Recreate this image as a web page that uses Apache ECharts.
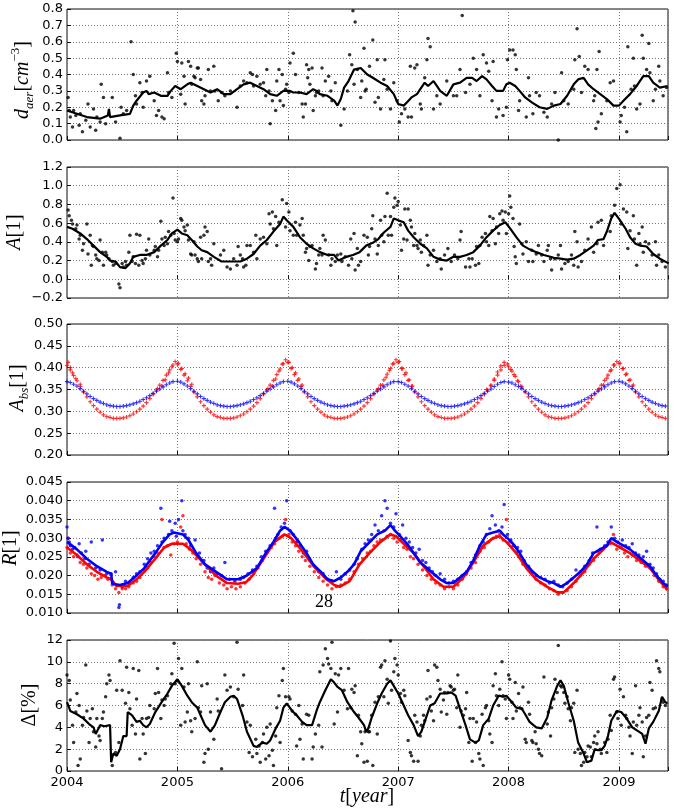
<!DOCTYPE html>
<html><head><meta charset="utf-8">
<script src="https://cdn.jsdelivr.net/npm/echarts@6/dist/echarts.min.js"></script>
<style>html,body{margin:0;padding:0;background:#fff}#c{width:675px;height:809px}</style>
</head><body><div id="c"></div>
<script>
// ---------- panel 1: d_aer ----------
const aerDots = [[2004.01,0.26],[2004.02,0.18],[2004.03,0.14],[2004.05,0.08],[2004.06,0.18],[2004.08,0.15],[2004.11,0.09],[2004.12,0.16],[2004.14,0.05],[2004.17,0.12],[2004.19,0.22],[2004.21,0.08],[2004.24,0.19],[2004.26,0.06],[2004.27,0.14],[2004.30,0.11],[2004.31,0.34],[2004.33,0.26],[2004.35,0.10],[2004.41,0.26],[2004.44,0.11],[2004.48,0.01],[2004.49,0.20],[2004.51,0.16],[2004.54,0.18],[2004.58,0.60],[2004.60,0.40],[2004.62,0.27],[2004.63,0.22],[2004.66,0.35],[2004.68,0.29],[2004.69,0.20],[2004.72,0.36],[2004.75,0.39],[2004.79,0.24],[2004.81,0.15],[2004.83,0.18],[2004.86,0.14],[2004.88,0.13],[2004.91,0.41],[2004.92,0.29],[2004.95,0.26],[2004.99,0.53],[2005.00,0.48],[2005.03,0.28],[2005.04,0.47],[2005.06,0.39],[2005.07,0.22],[2005.10,0.48],[2005.12,0.45],[2005.13,0.34],[2005.15,0.39],[2005.16,0.38],[2005.18,0.44],[2005.19,0.44],[2005.21,0.37],[2005.22,0.24],[2005.24,0.22],[2005.25,0.27],[2005.28,0.43],[2005.30,0.30],[2005.33,0.45],[2005.34,0.30],[2005.37,0.24],[2005.40,0.29],[2005.43,0.27],[2005.48,0.30],[2005.54,0.20],[2005.57,0.33],[2005.60,0.36],[2005.63,0.35],[2005.66,0.41],[2005.68,0.40],[2005.69,0.33],[2005.72,0.39],[2005.75,0.34],[2005.78,0.35],[2005.80,0.27],[2005.81,0.43],[2005.83,0.30],[2005.84,0.10],[2005.86,0.24],[2005.89,0.18],[2005.90,0.36],[2005.92,0.43],[2005.93,0.24],[2005.95,0.40],[2005.96,0.21],[2005.98,0.31],[2005.99,0.34],[2006.01,0.29],[2006.02,0.47],[2006.05,0.53],[2006.07,0.40],[2006.10,0.29],[2006.13,0.22],[2006.14,0.14],[2006.16,0.22],[2006.17,0.46],[2006.18,0.38],[2006.19,0.43],[2006.20,0.34],[2006.22,0.44],[2006.23,0.18],[2006.25,0.27],[2006.26,0.29],[2006.28,0.30],[2006.31,0.44],[2006.32,0.27],[2006.34,0.36],[2006.37,0.39],[2006.39,0.30],[2006.40,0.24],[2006.43,0.35],[2006.48,0.09],[2006.51,0.19],[2006.54,0.30],[2006.56,0.52],[2006.58,0.46],[2006.59,0.79],[2006.60,0.34],[2006.61,0.72],[2006.63,0.43],[2006.66,0.26],[2006.67,0.36],[2006.69,0.56],[2006.70,0.30],[2006.71,0.31],[2006.74,0.45],[2006.77,0.61],[2006.79,0.23],[2006.81,0.49],[2006.82,0.26],[2006.84,0.19],[2006.87,0.37],[2006.88,0.49],[2006.90,0.31],[2006.93,0.19],[2006.96,0.35],[2006.99,0.24],[2007.01,0.11],[2007.03,0.16],[2007.06,0.19],[2007.09,0.14],[2007.11,0.45],[2007.12,0.14],[2007.15,0.44],[2007.17,0.46],[2007.20,0.22],[2007.21,0.19],[2007.24,0.38],[2007.26,0.49],[2007.27,0.62],[2007.29,0.57],[2007.32,0.19],[2007.35,0.27],[2007.38,0.22],[2007.44,0.36],[2007.50,0.27],[2007.53,0.27],[2007.56,0.43],[2007.58,0.76],[2007.61,0.29],[2007.65,0.34],[2007.68,0.50],[2007.71,0.43],[2007.74,0.27],[2007.77,0.52],[2007.80,0.47],[2007.82,0.42],[2007.85,0.24],[2007.86,0.48],[2007.89,0.14],[2007.91,0.19],[2007.95,0.15],[2007.98,0.20],[2007.99,0.49],[2008.01,0.55],[2008.04,0.55],[2008.06,0.52],[2008.07,0.43],[2008.09,0.18],[2008.10,0.24],[2008.16,0.14],[2008.18,0.38],[2008.19,0.27],[2008.22,0.16],[2008.25,0.29],[2008.28,0.27],[2008.32,0.17],[2008.35,0.14],[2008.39,0.22],[2008.42,0.29],[2008.45,0.00],[2008.48,0.41],[2008.50,0.24],[2008.54,0.22],[2008.59,0.31],[2008.60,0.49],[2008.62,0.68],[2008.64,0.51],[2008.66,0.29],[2008.69,0.45],[2008.72,0.43],[2008.77,0.24],[2008.78,0.27],[2008.79,0.07],[2008.80,0.43],[2008.81,0.11],[2008.82,0.54],[2008.84,0.16],[2008.89,0.24],[2008.92,0.35],[2008.95,0.36],[2009.01,0.11],[2009.02,0.15],[2009.05,0.20],[2009.07,0.05],[2009.08,0.57],[2009.11,0.31],[2009.13,0.50],[2009.14,0.33],[2009.16,0.19],[2009.19,0.22],[2009.21,0.64],[2009.22,0.50],[2009.25,0.43],[2009.27,0.59],[2009.28,0.41],[2009.31,0.24],[2009.33,0.31],[2009.36,0.45],[2009.37,0.36],[2009.40,0.27],[2009.43,0.32]];
const aerLine = [[2004.00,0.18],[2004.09,0.16],[2004.18,0.14],[2004.30,0.13],[2004.37,0.15],[2004.38,0.19],[2004.39,0.14],[2004.48,0.15],[2004.57,0.16],[2004.60,0.21],[2004.63,0.24],[2004.69,0.29],[2004.72,0.30],[2004.74,0.28],[2004.79,0.29],[2004.85,0.27],[2004.91,0.27],[2004.94,0.30],[2004.98,0.33],[2005.03,0.31],[2005.09,0.34],[2005.12,0.35],[2005.18,0.33],[2005.24,0.31],[2005.30,0.29],[2005.36,0.31],[2005.42,0.28],[2005.48,0.28],[2005.54,0.31],[2005.60,0.34],[2005.66,0.35],[2005.72,0.33],[2005.78,0.31],[2005.84,0.28],[2005.90,0.27],[2005.96,0.30],[2006.02,0.30],[2006.05,0.29],[2006.11,0.29],[2006.17,0.28],[2006.23,0.31],[2006.26,0.30],[2006.29,0.28],[2006.36,0.27],[2006.42,0.24],[2006.45,0.21],[2006.48,0.25],[2006.51,0.32],[2006.55,0.36],[2006.60,0.43],[2006.66,0.44],[2006.72,0.40],[2006.77,0.38],[2006.84,0.35],[2006.90,0.33],[2006.96,0.28],[2007.00,0.22],[2007.05,0.21],[2007.08,0.23],[2007.12,0.26],[2007.17,0.28],[2007.20,0.31],[2007.24,0.35],[2007.27,0.33],[2007.32,0.36],[2007.35,0.33],[2007.38,0.30],[2007.44,0.27],[2007.50,0.34],[2007.56,0.35],[2007.62,0.38],[2007.67,0.38],[2007.71,0.36],[2007.76,0.39],[2007.80,0.37],[2007.85,0.33],[2007.89,0.30],[2007.95,0.30],[2007.98,0.34],[2008.01,0.35],[2008.06,0.33],[2008.10,0.30],[2008.15,0.26],[2008.21,0.23],[2008.28,0.20],[2008.35,0.19],[2008.41,0.21],[2008.47,0.22],[2008.53,0.27],[2008.59,0.34],[2008.63,0.37],[2008.68,0.38],[2008.72,0.34],[2008.77,0.31],[2008.83,0.28],[2008.89,0.25],[2008.95,0.21],[2009.00,0.21],[2009.04,0.24],[2009.10,0.28],[2009.16,0.33],[2009.22,0.39],[2009.27,0.39],[2009.31,0.35],[2009.37,0.32],[2009.44,0.33]];

// ---------- panel 2: A ----------
const aDots = [[2004.01,0.74],[2004.02,0.68],[2004.04,0.63],[2004.05,0.59],[2004.08,0.54],[2004.09,0.58],[2004.11,0.43],[2004.12,0.47],[2004.14,0.31],[2004.15,0.38],[2004.18,0.59],[2004.19,0.27],[2004.21,0.47],[2004.22,0.15],[2004.23,0.36],[2004.24,0.35],[2004.26,0.26],[2004.27,0.22],[2004.29,0.20],[2004.30,0.42],[2004.32,0.29],[2004.33,0.15],[2004.35,0.29],[2004.36,0.26],[2004.38,0.22],[2004.41,0.19],[2004.42,0.15],[2004.44,0.17],[2004.47,-0.05],[2004.48,-0.09],[2004.50,0.17],[2004.51,0.13],[2004.53,0.19],[2004.54,0.15],[2004.56,0.29],[2004.57,0.47],[2004.59,0.19],[2004.60,0.24],[2004.62,0.17],[2004.63,0.48],[2004.65,0.15],[2004.66,0.47],[2004.68,0.20],[2004.69,0.17],[2004.71,0.22],[2004.72,0.31],[2004.74,0.43],[2004.75,0.26],[2004.79,0.31],[2004.80,0.35],[2004.82,0.24],[2004.83,0.31],[2004.85,0.62],[2004.86,0.43],[2004.88,0.36],[2004.89,0.45],[2004.91,0.38],[2004.92,0.51],[2004.94,0.47],[2004.96,0.87],[2004.97,0.49],[2004.98,0.42],[2005.00,0.40],[2005.01,0.43],[2005.03,0.65],[2005.04,0.63],[2005.06,0.56],[2005.07,0.52],[2005.09,0.58],[2005.10,0.42],[2005.12,0.27],[2005.13,0.26],[2005.15,0.40],[2005.16,0.26],[2005.18,0.22],[2005.19,0.19],[2005.21,0.45],[2005.22,0.22],[2005.24,0.47],[2005.25,0.56],[2005.27,0.51],[2005.28,0.19],[2005.30,0.22],[2005.31,0.15],[2005.33,0.38],[2005.39,0.26],[2005.42,0.31],[2005.45,0.13],[2005.48,0.11],[2005.51,0.22],[2005.54,0.15],[2005.55,0.35],[2005.57,0.26],[2005.59,0.22],[2005.60,0.13],[2005.62,0.15],[2005.63,0.36],[2005.66,0.36],[2005.69,0.29],[2005.71,0.47],[2005.72,0.22],[2005.75,0.43],[2005.78,0.45],[2005.81,0.38],[2005.83,0.70],[2005.84,0.59],[2005.86,0.72],[2005.87,0.54],[2005.89,0.67],[2005.90,0.36],[2005.92,0.61],[2005.95,0.85],[2005.98,0.56],[2005.99,0.81],[2006.01,0.72],[2006.02,0.52],[2006.05,0.47],[2006.07,0.61],[2006.08,0.47],[2006.11,0.58],[2006.13,0.65],[2006.14,0.47],[2006.16,0.29],[2006.17,0.33],[2006.19,0.20],[2006.20,0.35],[2006.22,0.36],[2006.25,0.11],[2006.26,0.17],[2006.28,0.26],[2006.29,0.33],[2006.31,0.26],[2006.32,0.47],[2006.34,0.42],[2006.37,0.26],[2006.39,0.15],[2006.40,0.22],[2006.43,0.19],[2006.45,0.26],[2006.48,0.27],[2006.49,0.19],[2006.52,0.24],[2006.55,0.15],[2006.57,0.43],[2006.58,0.22],[2006.60,0.49],[2006.61,0.10],[2006.63,0.33],[2006.64,0.15],[2006.66,0.19],[2006.69,0.47],[2006.72,0.45],[2006.73,0.26],[2006.74,0.35],[2006.76,0.54],[2006.77,0.68],[2006.79,0.43],[2006.81,0.27],[2006.82,0.36],[2006.84,0.63],[2006.85,0.47],[2006.87,0.40],[2006.88,0.67],[2006.90,0.92],[2006.91,0.47],[2006.93,0.67],[2006.94,0.47],[2006.96,0.77],[2006.97,0.87],[2006.99,0.79],[2007.00,0.83],[2007.02,0.58],[2007.03,0.31],[2007.05,0.43],[2007.06,0.75],[2007.08,0.42],[2007.09,0.75],[2007.11,0.63],[2007.12,0.56],[2007.14,0.36],[2007.15,0.49],[2007.17,0.36],[2007.18,0.33],[2007.20,0.42],[2007.21,0.29],[2007.23,0.36],[2007.26,0.47],[2007.27,0.15],[2007.29,0.26],[2007.32,0.31],[2007.35,0.19],[2007.38,0.22],[2007.39,0.11],[2007.42,0.26],[2007.45,0.33],[2007.48,0.19],[2007.51,0.26],[2007.54,0.22],[2007.56,0.42],[2007.57,0.51],[2007.61,0.13],[2007.64,0.22],[2007.65,0.13],[2007.67,0.22],[2007.70,0.15],[2007.71,0.35],[2007.73,0.17],[2007.74,0.36],[2007.76,0.45],[2007.79,0.49],[2007.80,0.40],[2007.82,0.36],[2007.83,0.67],[2007.85,0.52],[2007.86,0.65],[2007.88,0.38],[2007.89,0.56],[2007.91,0.49],[2007.92,0.70],[2007.94,0.73],[2007.95,0.63],[2007.97,0.72],[2007.98,0.49],[2008.00,0.70],[2008.01,0.89],[2008.02,0.77],[2008.04,0.65],[2008.05,0.35],[2008.06,0.24],[2008.07,0.17],[2008.10,0.59],[2008.12,0.38],[2008.13,0.27],[2008.16,0.40],[2008.18,0.19],[2008.21,0.31],[2008.22,0.19],[2008.25,0.27],[2008.27,0.36],[2008.30,0.26],[2008.32,0.19],[2008.35,0.31],[2008.36,0.36],[2008.38,0.22],[2008.39,0.10],[2008.42,0.22],[2008.45,0.26],[2008.47,0.36],[2008.48,0.11],[2008.51,0.17],[2008.54,0.19],[2008.57,0.26],[2008.59,0.15],[2008.60,0.51],[2008.62,0.40],[2008.63,0.13],[2008.66,0.19],[2008.69,0.31],[2008.72,0.43],[2008.75,0.56],[2008.77,0.29],[2008.80,0.38],[2008.81,0.61],[2008.84,0.63],[2008.86,0.36],[2008.92,0.51],[2008.93,0.68],[2008.96,0.79],[2008.98,0.97],[2009.01,1.01],[2009.02,0.59],[2009.04,0.75],[2009.07,0.72],[2009.08,0.33],[2009.10,0.52],[2009.13,0.68],[2009.14,0.43],[2009.16,0.15],[2009.18,0.49],[2009.19,0.38],[2009.21,0.56],[2009.22,0.29],[2009.24,0.40],[2009.27,0.38],[2009.30,0.26],[2009.33,0.40],[2009.34,0.15],[2009.36,0.26],[2009.39,0.19],[2009.42,0.13]];
const aLine = [[2004.00,0.56],[2004.05,0.54],[2004.12,0.49],[2004.18,0.43],[2004.24,0.36],[2004.30,0.29],[2004.36,0.24],[2004.39,0.20],[2004.44,0.19],[2004.48,0.13],[2004.53,0.12],[2004.57,0.17],[2004.60,0.24],[2004.66,0.26],[2004.72,0.26],[2004.79,0.29],[2004.85,0.36],[2004.91,0.42],[2004.95,0.49],[2005.00,0.53],[2005.04,0.49],[2005.09,0.47],[2005.13,0.42],[2005.18,0.35],[2005.22,0.31],[2005.27,0.29],[2005.33,0.24],[2005.40,0.19],[2005.46,0.19],[2005.52,0.19],[2005.57,0.19],[2005.63,0.22],[2005.69,0.27],[2005.75,0.36],[2005.81,0.42],[2005.87,0.51],[2005.93,0.59],[2005.96,0.67],[2005.99,0.63],[2006.05,0.56],[2006.11,0.45],[2006.17,0.38],[2006.23,0.33],[2006.29,0.29],[2006.36,0.26],[2006.42,0.26],[2006.46,0.20],[2006.53,0.24],[2006.59,0.26],[2006.65,0.29],[2006.71,0.36],[2006.77,0.39],[2006.82,0.43],[2006.87,0.50],[2006.93,0.56],[2006.96,0.65],[2007.00,0.63],[2007.05,0.61],[2007.09,0.52],[2007.14,0.45],[2007.20,0.38],[2007.26,0.33],[2007.32,0.24],[2007.38,0.21],[2007.44,0.20],[2007.50,0.24],[2007.56,0.24],[2007.62,0.26],[2007.68,0.29],[2007.74,0.36],[2007.80,0.45],[2007.86,0.52],[2007.92,0.58],[2007.97,0.61],[2008.01,0.55],[2008.07,0.45],[2008.13,0.36],[2008.19,0.32],[2008.25,0.29],[2008.32,0.26],[2008.41,0.23],[2008.47,0.22],[2008.53,0.21],[2008.59,0.22],[2008.65,0.26],[2008.71,0.31],[2008.77,0.36],[2008.81,0.42],[2008.86,0.43],[2008.89,0.51],[2008.93,0.65],[2008.96,0.71],[2009.01,0.63],[2009.06,0.54],[2009.10,0.45],[2009.15,0.38],[2009.19,0.36],[2009.25,0.35],[2009.31,0.27],[2009.37,0.22],[2009.45,0.17]];

// ---------- panel 3: A_bs ----------
const absTimes = [
2004.00,2004.03,2004.06,2004.09,2004.12,2004.15,2004.18,2004.21,2004.24,2004.27,2004.30,2004.33,2004.36,2004.39,2004.42,2004.45,2004.48,2004.51,2004.54,2004.57,2004.60,2004.63,2004.66,2004.69,2004.72,2004.75,2004.78,2004.81,2004.84,2004.87,2004.90,2004.93,2004.96,
2005.00,2005.03,2005.06,2005.09,2005.12,2005.15,2005.18,2005.21,2005.24,2005.27,2005.30,2005.33,2005.36,2005.39,2005.42,2005.45,2005.48,2005.51,2005.54,2005.57,2005.60,2005.63,2005.66,2005.69,2005.72,2005.75,2005.78,2005.81,2005.84,2005.87,2005.90,2005.93,2005.96,
2006.00,2006.03,2006.06,2006.09,2006.12,2006.15,2006.18,2006.21,2006.24,2006.27,2006.30,2006.33,2006.36,2006.39,2006.42,2006.45,2006.48,2006.51,2006.54,2006.57,2006.60,2006.63,2006.66,2006.69,2006.72,2006.75,2006.78,2006.81,2006.84,2006.87,2006.90,2006.93,2006.96,
2007.00,2007.03,2007.06,2007.09,2007.12,2007.15,2007.18,2007.21,2007.24,2007.27,2007.30,2007.33,2007.36,2007.39,2007.42,2007.45,2007.48,2007.51,2007.54,2007.57,2007.60,2007.63,2007.66,2007.69,2007.72,2007.75,2007.78,2007.81,2007.84,2007.87,2007.90,2007.93,2007.96,
2008.00,2008.03,2008.06,2008.09,2008.12,2008.15,2008.18,2008.21,2008.24,2008.27,2008.30,2008.33,2008.36,2008.39,2008.42,2008.45,2008.48,2008.51,2008.54,2008.57,2008.60,2008.63,2008.66,2008.69,2008.72,2008.75,2008.78,2008.81,2008.84,2008.87,2008.90,2008.93,2008.96,
2009.00,2009.03,2009.06,2009.09,2009.12,2009.15,2009.18,2009.21,2009.24,2009.27,2009.30,2009.33,2009.36,2009.39,2009.42];
const absBlue = [
0.368,0.366,0.362,0.358,0.352,0.346,0.340,0.334,0.329,0.325,0.321,0.318,0.315,0.313,0.312,0.311,0.311,0.312,0.313,0.315,0.317,0.320,0.323,0.327,0.331,0.336,0.341,0.346,0.351,0.356,0.361,0.365,0.368,
0.369,0.367,0.363,0.358,0.352,0.346,0.340,0.334,0.329,0.325,0.321,0.318,0.315,0.313,0.312,0.311,0.311,0.312,0.313,0.315,0.317,0.320,0.323,0.327,0.331,0.336,0.341,0.346,0.351,0.356,0.361,0.365,0.368,
0.369,0.367,0.363,0.358,0.352,0.346,0.340,0.334,0.329,0.325,0.321,0.318,0.315,0.313,0.312,0.311,0.311,0.312,0.313,0.315,0.317,0.320,0.323,0.327,0.331,0.336,0.341,0.346,0.351,0.356,0.361,0.365,0.368,
0.368,0.366,0.362,0.358,0.352,0.346,0.340,0.334,0.329,0.325,0.321,0.318,0.315,0.313,0.312,0.311,0.311,0.312,0.313,0.315,0.317,0.320,0.323,0.327,0.331,0.336,0.341,0.346,0.351,0.357,0.362,0.366,0.368,
0.367,0.365,0.361,0.357,0.352,0.346,0.340,0.334,0.329,0.325,0.321,0.318,0.315,0.313,0.312,0.311,0.311,0.312,0.313,0.315,0.317,0.320,0.323,0.327,0.331,0.336,0.341,0.346,0.351,0.356,0.361,0.365,0.368,
0.369,0.367,0.363,0.358,0.352,0.346,0.340,0.334,0.329,0.325,0.321,0.318,0.315,0.313,0.312];
const absRed = [
0.405,0.395,0.382,0.370,0.357,0.344,0.333,0.322,0.313,0.305,0.298,0.292,0.288,0.286,0.284,0.284,0.284,0.285,0.287,0.290,0.294,0.299,0.305,0.312,0.320,0.329,0.339,0.349,0.360,0.371,0.383,0.395,0.406,
0.408,0.396,0.383,0.370,0.357,0.344,0.333,0.322,0.313,0.305,0.298,0.292,0.288,0.286,0.284,0.284,0.284,0.285,0.287,0.290,0.294,0.299,0.305,0.312,0.320,0.329,0.339,0.349,0.360,0.371,0.384,0.397,0.409,
0.412,0.398,0.384,0.371,0.357,0.344,0.333,0.322,0.313,0.305,0.298,0.292,0.288,0.286,0.284,0.284,0.284,0.285,0.287,0.290,0.294,0.299,0.305,0.312,0.320,0.329,0.339,0.349,0.360,0.372,0.385,0.398,0.410,
0.412,0.398,0.384,0.371,0.357,0.344,0.333,0.322,0.313,0.305,0.298,0.292,0.288,0.286,0.284,0.284,0.284,0.285,0.287,0.290,0.294,0.299,0.305,0.312,0.320,0.329,0.339,0.349,0.360,0.371,0.383,0.395,0.405,
0.402,0.392,0.380,0.368,0.356,0.344,0.333,0.322,0.313,0.305,0.298,0.292,0.288,0.286,0.284,0.284,0.284,0.285,0.287,0.290,0.294,0.299,0.305,0.312,0.320,0.329,0.339,0.349,0.360,0.371,0.383,0.395,0.406,
0.410,0.398,0.384,0.371,0.357,0.344,0.333,0.322,0.313,0.305,0.298,0.292,0.288,0.286,0.284];
const absRedSpread = [[2004.01,0.412],[2004.03,0.400],[2004.05,0.388],[2004.08,0.375],[2004.12,0.362],
[2004.82,0.352],[2004.86,0.358],[2004.89,0.372],[2004.92,0.388],[2004.95,0.402],[2004.98,0.414],[2005.01,0.410],[2005.04,0.398],[2005.07,0.386],[2005.10,0.376],[2005.13,0.362],
[2005.82,0.352],[2005.86,0.358],[2005.89,0.374],[2005.92,0.392],[2005.95,0.408],[2005.98,0.418],[2006.01,0.412],[2006.04,0.400],[2006.07,0.388],[2006.10,0.374],[2006.13,0.360],
[2006.82,0.352],[2006.86,0.360],[2006.89,0.378],[2006.92,0.394],[2006.95,0.408],[2006.98,0.418],[2007.01,0.414],[2007.04,0.398],[2007.07,0.388],[2007.10,0.372],[2007.13,0.358],
[2007.80,0.350],[2007.84,0.358],[2007.87,0.374],[2007.90,0.390],[2007.93,0.404],[2007.96,0.412],[2007.99,0.408],[2008.02,0.396],[2008.05,0.384],[2008.08,0.370],[2008.11,0.358],
[2008.82,0.352],[2008.86,0.360],[2008.89,0.376],[2008.92,0.392],[2008.95,0.406],[2008.98,0.414],[2009.01,0.410],[2009.04,0.398],[2009.07,0.386],[2009.10,0.372],[2009.13,0.360]];

// ---------- panel 4: R ----------
const rBlueDots = [[2004.00,0.0330],[2004.01,0.0300],[2004.02,0.0290],[2004.03,0.0280],[2004.05,0.0270],[2004.07,0.0275],[2004.10,0.0250],[2004.11,0.0285],[2004.13,0.0260],[2004.16,0.0245],[2004.17,0.0265],[2004.20,0.0230],[2004.22,0.0290],[2004.26,0.0220],[2004.30,0.0215],[2004.32,0.0295],[2004.36,0.0205],[2004.40,0.0205],[2004.44,0.0210],[2004.47,0.0115],[2004.475,0.0122],[2004.50,0.0170],[2004.53,0.0185],[2004.56,0.0180],[2004.60,0.0195],[2004.63,0.0205],[2004.66,0.0210],[2004.70,0.0230],[2004.73,0.0245],[2004.76,0.0260],[2004.79,0.0265],[2004.82,0.0280],[2004.85,0.0380],[2004.86,0.0290],[2004.88,0.0300],[2004.92,0.0310],[2004.93,0.0345],[2004.95,0.0320],[2004.98,0.0340],[2004.99,0.0305],[2005.01,0.0350],[2005.04,0.0400],[2005.05,0.0320],[2005.07,0.0310],[2005.10,0.0300],[2005.12,0.0280],[2005.16,0.0295],[2005.20,0.0260],[2005.24,0.0240],[2005.27,0.0220],[2005.30,0.0210],[2005.33,0.0220],[2005.36,0.0205],[2005.40,0.0200],[2005.43,0.0235],[2005.47,0.0190],[2005.52,0.0185],[2005.57,0.0190],[2005.60,0.0195],[2005.64,0.0205],[2005.68,0.0215],[2005.72,0.0225],[2005.76,0.0250],[2005.80,0.0265],[2005.84,0.0280],[2005.88,0.0380],[2005.89,0.0300],[2005.91,0.0310],[2005.94,0.0330],[2005.97,0.0340],[2005.99,0.0400],[2006.02,0.0320],[2006.05,0.0310],[2006.08,0.0290],[2006.11,0.0280],[2006.14,0.0260],[2006.17,0.0265],[2006.20,0.0240],[2006.24,0.0225],[2006.28,0.0210],[2006.32,0.0205],[2006.36,0.0190],[2006.40,0.0185],[2006.44,0.0210],[2006.48,0.0190],[2006.52,0.0205],[2006.56,0.0215],[2006.60,0.0230],[2006.63,0.0245],[2006.67,0.0270],[2006.70,0.0285],[2006.73,0.0295],[2006.76,0.0310],[2006.79,0.0335],[2006.82,0.0320],[2006.85,0.0360],[2006.88,0.0400],[2006.90,0.0380],[2006.93,0.0340],[2006.96,0.0330],[2006.98,0.0365],[2007.01,0.0310],[2007.04,0.0335],[2007.07,0.0300],[2007.10,0.0290],[2007.13,0.0275],[2007.16,0.0260],[2007.19,0.0270],[2007.22,0.0240],[2007.25,0.0235],[2007.28,0.0220],[2007.31,0.0210],[2007.34,0.0200],[2007.38,0.0205],[2007.42,0.0190],[2007.46,0.0180],[2007.50,0.0185],[2007.54,0.0190],[2007.58,0.0200],[2007.62,0.0210],[2007.66,0.0235],[2007.70,0.0255],[2007.74,0.0280],[2007.77,0.0290],[2007.80,0.0310],[2007.83,0.0325],[2007.85,0.0360],[2007.88,0.0335],[2007.91,0.0320],[2007.94,0.0330],[2007.96,0.0390],[2007.99,0.0310],[2008.02,0.0295],[2008.05,0.0280],[2008.08,0.0275],[2008.11,0.0265],[2008.14,0.0240],[2008.18,0.0225],[2008.21,0.0210],[2008.25,0.0200],[2008.29,0.0195],[2008.33,0.0190],[2008.37,0.0180],[2008.41,0.0185],[2008.45,0.0175],[2008.49,0.0170],[2008.53,0.0180],[2008.57,0.0190],[2008.61,0.0215],[2008.65,0.0210],[2008.69,0.0225],[2008.73,0.0240],[2008.76,0.0260],[2008.80,0.0330],[2008.83,0.0270],[2008.87,0.0280],[2008.90,0.0290],[2008.93,0.0330],[2008.96,0.0300],[2008.99,0.0290],[2009.03,0.0295],[2009.06,0.0280],[2009.09,0.0275],[2009.12,0.0285],[2009.15,0.0260],[2009.18,0.0255],[2009.22,0.0250],[2009.25,0.0265],[2009.28,0.0230],[2009.31,0.0220],[2009.34,0.0205],[2009.37,0.0190],[2009.40,0.0185],[2009.43,0.0175]];
const rRedDots = [[2004.00,0.0275],[2004.01,0.0300],[2004.03,0.0260],[2004.06,0.0250],[2004.09,0.0255],[2004.12,0.0235],[2004.15,0.0230],[2004.18,0.0220],[2004.22,0.0205],[2004.25,0.0200],[2004.28,0.0190],[2004.31,0.0195],[2004.34,0.0200],[2004.37,0.0190],[2004.41,0.0175],[2004.44,0.0165],[2004.47,0.0155],[2004.50,0.0165],[2004.53,0.0165],[2004.56,0.0170],[2004.60,0.0180],[2004.63,0.0185],[2004.66,0.0195],[2004.70,0.0215],[2004.73,0.0220],[2004.76,0.0235],[2004.79,0.0250],[2004.82,0.0260],[2004.86,0.0350],[2004.88,0.0275],[2004.91,0.0280],[2004.94,0.0255],[2004.97,0.0285],[2005.00,0.0290],[2005.03,0.0330],[2005.05,0.0360],[2005.08,0.0285],[2005.11,0.0270],[2005.14,0.0260],[2005.17,0.0245],[2005.21,0.0230],[2005.25,0.0210],[2005.28,0.0195],[2005.31,0.0190],[2005.34,0.0200],[2005.38,0.0180],[2005.42,0.0175],[2005.45,0.0165],[2005.49,0.0170],[2005.53,0.0165],[2005.57,0.0170],[2005.61,0.0180],[2005.65,0.0190],[2005.69,0.0205],[2005.73,0.0220],[2005.77,0.0240],[2005.81,0.0260],[2005.85,0.0275],[2005.88,0.0285],[2005.92,0.0300],[2005.95,0.0305],[2005.98,0.0350],[2006.01,0.0310],[2006.04,0.0290],[2006.07,0.0280],[2006.10,0.0265],[2006.13,0.0250],[2006.16,0.0240],[2006.20,0.0225],[2006.24,0.0210],[2006.28,0.0195],[2006.32,0.0185],[2006.36,0.0175],[2006.40,0.0165],[2006.44,0.0170],[2006.48,0.0175],[2006.52,0.0180],[2006.56,0.0190],[2006.60,0.0210],[2006.64,0.0230],[2006.68,0.0245],[2006.72,0.0260],[2006.75,0.0265],[2006.78,0.0280],[2006.81,0.0290],[2006.84,0.0295],[2006.87,0.0320],[2006.90,0.0305],[2006.93,0.0310],[2006.96,0.0300],[2006.99,0.0290],[2007.02,0.0295],[2007.05,0.0275],[2007.08,0.0270],[2007.11,0.0250],[2007.14,0.0245],[2007.18,0.0230],[2007.22,0.0215],[2007.26,0.0200],[2007.30,0.0190],[2007.34,0.0180],[2007.38,0.0175],[2007.42,0.0165],[2007.46,0.0170],[2007.50,0.0165],[2007.54,0.0175],[2007.58,0.0190],[2007.62,0.0205],[2007.66,0.0220],[2007.70,0.0235],[2007.74,0.0265],[2007.78,0.0275],[2007.82,0.0290],[2007.86,0.0300],[2007.89,0.0305],[2007.92,0.0310],[2007.95,0.0295],[2007.98,0.0350],[2008.01,0.0290],[2008.04,0.0280],[2008.07,0.0260],[2008.10,0.0250],[2008.13,0.0230],[2008.17,0.0220],[2008.21,0.0205],[2008.25,0.0190],[2008.29,0.0180],[2008.33,0.0175],[2008.37,0.0165],[2008.41,0.0160],[2008.45,0.0150],[2008.49,0.0155],[2008.53,0.0160],[2008.57,0.0170],[2008.61,0.0185],[2008.65,0.0200],[2008.69,0.0210],[2008.73,0.0230],[2008.77,0.0240],[2008.81,0.0265],[2008.85,0.0270],[2008.89,0.0280],[2008.92,0.0285],[2008.95,0.0310],[2008.98,0.0270],[2009.02,0.0275],[2009.05,0.0260],[2009.08,0.0250],[2009.12,0.0255],[2009.16,0.0240],[2009.20,0.0235],[2009.24,0.0225],[2009.28,0.0220],[2009.32,0.0200],[2009.36,0.0185],[2009.40,0.0170],[2009.43,0.0165]];
const rBlueLine = [[2004.00,0.0290],[2004.09,0.0270],[2004.18,0.0245],[2004.27,0.0225],[2004.36,0.0210],[2004.40,0.0205],[2004.41,0.0178],[2004.48,0.0175],[2004.55,0.0180],[2004.63,0.0200],[2004.70,0.0220],[2004.80,0.0260],[2004.87,0.0290],[2004.93,0.0310],[2004.97,0.0315],[2005.05,0.0310],[2005.10,0.0295],[2005.17,0.0260],[2005.25,0.0230],[2005.35,0.0210],[2005.45,0.0190],[2005.55,0.0190],[2005.63,0.0200],[2005.72,0.0220],[2005.80,0.0260],[2005.87,0.0290],[2005.93,0.0320],[2005.97,0.0330],[2006.02,0.0320],[2006.10,0.0290],[2006.17,0.0260],[2006.23,0.0230],[2006.30,0.0210],[2006.36,0.0190],[2006.42,0.0185],[2006.48,0.0195],[2006.54,0.0210],[2006.60,0.0230],[2006.66,0.0265],[2006.71,0.0280],[2006.76,0.0295],[2006.81,0.0310],[2006.88,0.0320],[2006.93,0.0335],[2006.97,0.0320],[2007.02,0.0305],[2007.08,0.0285],[2007.14,0.0260],[2007.20,0.0235],[2007.26,0.0220],[2007.32,0.0205],[2007.38,0.0190],[2007.44,0.0180],[2007.50,0.0180],[2007.56,0.0195],[2007.62,0.0210],[2007.68,0.0240],[2007.74,0.0280],[2007.80,0.0310],[2007.86,0.0315],[2007.92,0.0320],[2007.95,0.0310],[2007.99,0.0300],[2008.04,0.0285],[2008.10,0.0260],[2008.16,0.0230],[2008.22,0.0210],[2008.28,0.0195],[2008.35,0.0185],[2008.41,0.0180],[2008.47,0.0170],[2008.53,0.0180],[2008.59,0.0195],[2008.65,0.0210],[2008.71,0.0230],[2008.77,0.0260],[2008.83,0.0270],[2008.89,0.0280],[2008.93,0.0300],[2008.98,0.0290],[2009.04,0.0280],[2009.10,0.0270],[2009.16,0.0255],[2009.22,0.0240],[2009.28,0.0225],[2009.34,0.0200],[2009.40,0.0180],[2009.44,0.0170]];
const rRedLine = [[2004.00,0.0275],[2004.09,0.0255],[2004.18,0.0230],[2004.27,0.0210],[2004.36,0.0195],[2004.40,0.0190],[2004.45,0.0172],[2004.55,0.0172],[2004.63,0.0190],[2004.70,0.0210],[2004.80,0.0245],[2004.88,0.0275],[2004.95,0.0285],[2005.05,0.0285],[2005.12,0.0270],[2005.20,0.0245],[2005.28,0.0220],[2005.35,0.0200],[2005.45,0.0180],[2005.55,0.0178],[2005.62,0.0182],[2005.68,0.0200],[2005.78,0.0245],[2005.88,0.0290],[2005.97,0.0310],[2006.03,0.0300],[2006.12,0.0270],[2006.25,0.0220],[2006.35,0.0190],[2006.42,0.0175],[2006.47,0.0170],[2006.56,0.0185],[2006.65,0.0230],[2006.74,0.0260],[2006.84,0.0290],[2006.93,0.0310],[2006.98,0.0305],[2007.05,0.0285],[2007.14,0.0260],[2007.23,0.0225],[2007.32,0.0190],[2007.41,0.0170],[2007.50,0.0170],[2007.59,0.0195],[2007.68,0.0235],[2007.77,0.0280],[2007.86,0.0300],[2007.92,0.0305],[2007.98,0.0290],[2008.07,0.0260],[2008.16,0.0220],[2008.25,0.0190],[2008.35,0.0170],[2008.44,0.0155],[2008.50,0.0155],[2008.59,0.0180],[2008.68,0.0210],[2008.77,0.0245],[2008.86,0.0270],[2008.92,0.0290],[2009.01,0.0275],[2009.10,0.0260],[2009.19,0.0240],[2009.28,0.0220],[2009.37,0.0185],[2009.44,0.0162]];

// ---------- panel 5: Delta ----------
const dDots = [[2004.00,8.8],[2004.02,8.3],[2004.03,6.5],[2004.05,4.2],[2004.06,2.6],[2004.08,5.4],[2004.09,7.1],[2004.10,0.5],[2004.11,6.0],[2004.12,1.1],[2004.14,4.2],[2004.15,4.9],[2004.17,9.7],[2004.18,5.5],[2004.20,2.6],[2004.21,4.8],[2004.23,5.7],[2004.24,3.6],[2004.26,2.2],[2004.27,4.8],[2004.29,3.2],[2004.30,2.8],[2004.32,4.8],[2004.33,5.4],[2004.35,6.8],[2004.36,8.0],[2004.38,8.8],[2004.39,8.3],[2004.41,0.5],[2004.44,1.7],[2004.45,7.4],[2004.47,2.6],[2004.48,10.1],[2004.50,7.4],[2004.53,6.2],[2004.54,9.5],[2004.56,7.2],[2004.57,5.7],[2004.59,4.2],[2004.60,9.4],[2004.62,3.4],[2004.63,6.6],[2004.65,9.2],[2004.66,1.1],[2004.68,4.8],[2004.69,3.4],[2004.71,1.6],[2004.72,4.8],[2004.74,4.9],[2004.75,6.0],[2004.79,5.7],[2004.80,7.1],[2004.82,9.4],[2004.83,7.2],[2004.85,4.8],[2004.86,6.5],[2004.88,6.0],[2004.89,6.6],[2004.91,6.9],[2004.94,8.0],[2004.95,8.9],[2004.97,11.7],[2004.98,8.0],[2005.00,8.3],[2005.01,10.3],[2005.03,4.2],[2005.04,9.4],[2005.06,7.7],[2005.07,4.5],[2005.09,5.4],[2005.10,8.0],[2005.12,4.6],[2005.13,3.6],[2005.16,4.8],[2005.18,10.0],[2005.19,5.8],[2005.21,5.4],[2005.22,7.8],[2005.24,0.8],[2005.25,1.6],[2005.27,8.0],[2005.28,2.0],[2005.30,5.4],[2005.33,2.9],[2005.36,6.6],[2005.37,5.5],[2005.40,0.2],[2005.43,8.8],[2005.45,7.4],[2005.48,7.7],[2005.51,6.8],[2005.54,11.8],[2005.55,7.5],[2005.59,6.0],[2005.60,8.8],[2005.63,4.5],[2005.65,1.7],[2005.66,4.2],[2005.68,1.3],[2005.71,2.9],[2005.72,1.6],[2005.74,2.3],[2005.75,0.8],[2005.77,2.6],[2005.78,3.4],[2005.80,1.1],[2005.81,4.0],[2005.83,1.4],[2005.84,4.3],[2005.86,1.9],[2005.87,0.5],[2005.89,3.2],[2005.90,5.8],[2005.92,6.9],[2005.93,2.6],[2005.95,8.3],[2005.96,9.4],[2005.98,6.8],[2006.01,6.8],[2006.02,6.6],[2006.04,5.5],[2006.07,5.2],[2006.08,2.3],[2006.10,6.0],[2006.11,2.9],[2006.13,4.3],[2006.14,1.1],[2006.17,5.2],[2006.19,5.1],[2006.22,1.1],[2006.23,2.2],[2006.25,3.4],[2006.28,4.2],[2006.29,9.1],[2006.31,2.2],[2006.32,9.7],[2006.34,11.2],[2006.36,10.3],[2006.37,9.8],[2006.39,9.4],[2006.40,11.8],[2006.42,4.3],[2006.43,8.9],[2006.45,5.4],[2006.46,8.8],[2006.48,9.4],[2006.51,7.4],[2006.54,5.7],[2006.55,9.4],[2006.57,5.8],[2006.58,7.5],[2006.60,7.2],[2006.61,7.8],[2006.63,1.4],[2006.64,5.1],[2006.66,3.6],[2006.67,2.5],[2006.69,0.8],[2006.70,3.6],[2006.72,0.9],[2006.73,3.6],[2006.74,3.6],[2006.76,5.1],[2006.77,0.5],[2006.79,6.3],[2006.81,3.4],[2006.82,6.8],[2006.84,9.5],[2006.85,9.7],[2006.87,6.8],[2006.88,10.1],[2006.90,8.4],[2006.91,6.2],[2006.93,11.9],[2006.94,7.4],[2006.96,9.1],[2006.97,10.3],[2006.99,9.7],[2007.00,8.8],[2007.02,7.1],[2007.03,6.3],[2007.05,7.4],[2007.06,6.9],[2007.09,2.8],[2007.11,1.7],[2007.12,1.4],[2007.14,0.9],[2007.15,5.1],[2007.17,4.5],[2007.18,0.9],[2007.20,3.2],[2007.21,4.2],[2007.23,5.1],[2007.24,4.6],[2007.26,6.6],[2007.27,9.2],[2007.29,6.8],[2007.30,5.5],[2007.32,4.6],[2007.33,9.7],[2007.35,9.5],[2007.36,8.3],[2007.38,7.5],[2007.39,5.4],[2007.41,6.5],[2007.42,7.2],[2007.44,5.2],[2007.45,7.2],[2007.47,7.8],[2007.48,7.7],[2007.50,7.4],[2007.51,7.5],[2007.53,5.8],[2007.54,8.8],[2007.56,4.0],[2007.57,5.5],[2007.59,5.1],[2007.61,5.7],[2007.62,7.2],[2007.64,2.6],[2007.65,4.8],[2007.67,0.9],[2007.68,4.8],[2007.70,2.6],[2007.71,4.5],[2007.73,1.6],[2007.74,1.1],[2007.76,5.2],[2007.77,0.5],[2007.79,5.8],[2007.80,6.0],[2007.82,4.6],[2007.83,3.4],[2007.85,2.6],[2007.86,7.8],[2007.88,8.9],[2007.89,6.9],[2007.91,6.0],[2007.92,7.5],[2007.94,10.0],[2007.95,6.9],[2007.97,6.6],[2007.98,4.8],[2008.00,8.8],[2008.01,8.4],[2008.03,6.3],[2008.04,4.8],[2008.06,8.1],[2008.07,5.5],[2008.09,7.1],[2008.10,5.8],[2008.12,5.7],[2008.13,7.7],[2008.15,2.9],[2008.16,2.6],[2008.18,6.3],[2008.19,5.2],[2008.21,2.8],[2008.22,2.6],[2008.24,3.6],[2008.25,2.5],[2008.27,2.0],[2008.28,1.6],[2008.30,1.4],[2008.32,8.6],[2008.35,4.3],[2008.36,5.4],[2008.38,3.2],[2008.39,5.8],[2008.41,6.6],[2008.42,8.4],[2008.44,7.2],[2008.45,11.5],[2008.47,7.8],[2008.48,7.7],[2008.50,7.2],[2008.51,6.2],[2008.53,6.8],[2008.54,5.7],[2008.56,4.6],[2008.57,5.8],[2008.59,6.2],[2008.60,1.7],[2008.62,7.4],[2008.63,2.0],[2008.65,1.6],[2008.66,0.5],[2008.68,0.8],[2008.69,1.7],[2008.71,1.3],[2008.72,2.3],[2008.74,2.2],[2008.75,1.3],[2008.77,2.6],[2008.78,3.2],[2008.80,2.5],[2008.81,3.6],[2008.83,2.0],[2008.84,1.6],[2008.87,2.6],[2008.89,1.7],[2008.90,2.9],[2008.92,5.1],[2008.93,3.7],[2008.95,8.4],[2008.96,8.6],[2008.98,5.4],[2008.99,4.8],[2009.01,7.5],[2009.02,4.2],[2009.04,6.8],[2009.06,5.1],[2009.07,4.8],[2009.09,4.0],[2009.10,3.2],[2009.12,1.6],[2009.13,4.5],[2009.15,7.8],[2009.16,4.2],[2009.18,5.1],[2009.19,5.8],[2009.21,4.5],[2009.22,1.3],[2009.24,3.2],[2009.25,4.9],[2009.27,5.1],[2009.28,8.1],[2009.30,7.4],[2009.31,5.7],[2009.33,5.8],[2009.34,10.1],[2009.36,9.4],[2009.37,9.1],[2009.39,6.6],[2009.40,6.3],[2009.42,6.0]];
const dLine = [[2004.00,6.3],[2004.03,5.5],[2004.09,5.2],[2004.15,4.8],[2004.20,4.3],[2004.24,4.0],[2004.26,3.4],[2004.30,4.2],[2004.34,4.1],[2004.39,4.2],[2004.40,0.8],[2004.42,1.6],[2004.45,1.4],[2004.48,2.0],[2004.51,3.2],[2004.54,3.2],[2004.55,5.4],[2004.59,5.1],[2004.63,4.5],[2004.66,4.6],[2004.69,4.2],[2004.72,4.0],[2004.75,4.3],[2004.80,5.4],[2004.85,6.2],[2004.91,7.1],[2004.95,7.8],[2005.00,8.4],[2005.04,7.8],[2005.09,6.9],[2005.13,6.3],[2005.18,5.8],[2005.21,5.1],[2005.25,4.2],[2005.30,3.6],[2005.34,4.2],[2005.39,5.4],[2005.43,6.3],[2005.48,6.8],[2005.51,6.9],[2005.54,6.6],[2005.59,5.1],[2005.63,3.6],[2005.69,2.3],[2005.72,2.2],[2005.77,2.6],[2005.81,2.5],[2005.84,2.8],[2005.89,3.9],[2005.93,4.6],[2005.96,5.8],[2005.99,6.2],[2006.04,5.5],[2006.08,5.1],[2006.13,4.5],[2006.17,4.2],[2006.22,4.2],[2006.26,5.5],[2006.29,6.3],[2006.34,7.4],[2006.39,8.4],[2006.42,8.1],[2006.45,7.7],[2006.49,7.4],[2006.54,6.3],[2006.60,5.4],[2006.64,4.9],[2006.69,4.2],[2006.71,3.6],[2006.73,3.9],[2006.76,4.9],[2006.81,6.2],[2006.85,7.1],[2006.90,8.0],[2006.93,8.3],[2006.96,7.8],[2007.00,7.1],[2007.05,6.0],[2007.09,5.1],[2007.14,4.2],[2007.18,3.2],[2007.21,3.6],[2007.24,4.5],[2007.29,6.0],[2007.33,6.2],[2007.38,7.1],[2007.44,7.1],[2007.48,7.2],[2007.52,6.9],[2007.56,5.7],[2007.61,4.2],[2007.65,2.9],[2007.70,2.6],[2007.73,2.8],[2007.77,4.2],[2007.82,4.8],[2007.86,6.0],[2007.91,6.9],[2007.95,6.8],[2007.98,6.9],[2008.03,6.3],[2008.07,5.8],[2008.12,5.7],[2008.15,5.2],[2008.19,4.5],[2008.25,4.0],[2008.30,3.9],[2008.35,4.9],[2008.39,6.5],[2008.44,7.8],[2008.47,8.3],[2008.50,7.8],[2008.54,6.3],[2008.59,4.6],[2008.63,2.6],[2008.68,1.6],[2008.71,0.8],[2008.75,0.95],[2008.78,2.0],[2008.81,1.9],[2008.84,1.9],[2008.87,2.3],[2008.90,3.2],[2008.93,4.6],[2008.98,5.5],[2009.02,5.4],[2009.07,4.8],[2009.12,4.0],[2009.18,3.6],[2009.21,3.4],[2009.24,2.5],[2009.27,3.9],[2009.31,4.5],[2009.36,5.5],[2009.39,6.8],[2009.42,6.3],[2009.44,6.2]];

const yearTicks = [2004, 2005, 2006, 2007, 2008, 2009];

// ---------- layout ----------
const panelTop = [9, 167, 324, 482, 640];
const panelH = 131, plotL = 67, plotW = 601;
const yRanges = [[0, 0.8, 0.1, 1], [-0.2, 1.2, 0.2, 1], [0.2, 0.5, 0.05, 2], [0.010, 0.045, 0.005, 3], [0, 12, 2, 0]];
const XMAX = 2004 + plotW / 110.4;

const chart = echarts.init(document.getElementById('c'), null, {renderer: 'canvas'});
const fontUI = 'DejaVu Sans';
const grid = [], xAxis = [], yAxis = [];
const gridLine = {show: true, lineStyle: {color: '#777', type: [1, 2], width: 1}};
for (let i = 0; i < 5; i++) {
  grid.push({left: plotL, top: panelTop[i], width: plotW, height: panelH, show: true, borderColor: '#111', borderWidth: 1, backgroundColor: 'transparent'});
  xAxis.push({type: 'value', gridIndex: i, min: 2004, max: XMAX, interval: 1,
    axisLine: {show: false}, axisTick: {show: true, inside: true, length: 4, lineStyle: {color: '#111'}},
    axisLabel: {show: i === 4, fontSize: 13, color: '#000', fontFamily: fontUI, margin: 5,
      formatter: v => (yearTicks.indexOf(Math.round(v)) >= 0 && Math.abs(v - Math.round(v)) < 1e-6) ? String(Math.round(v)) : ''},
    splitLine: gridLine});
  const [mn, mx, iv, dec] = yRanges[i];
  yAxis.push({type: 'value', gridIndex: i, min: mn, max: mx, interval: iv,
    axisLine: {show: false}, axisTick: {show: true, inside: true, length: 4, lineStyle: {color: '#111'}},
    axisLabel: {fontSize: 13, color: '#000', fontFamily: fontUI, margin: 4,
      formatter: v => { let s = (Math.abs(v) < 1e-9 ? 0 : v).toFixed(dec); return s.charAt(0) === '-' ? '\u2212' + s.slice(1) : s; }},
    splitLine: gridLine});
}
const dot = (i, data, color, size) => ({type: 'scatter', xAxisIndex: i, yAxisIndex: i, data: data, symbol: 'circle', symbolSize: size, itemStyle: {color: color}, silent: true, z: 2});
const line = (i, data, color, w) => ({type: 'line', xAxisIndex: i, yAxisIndex: i, data: data, showSymbol: false, symbol: 'none', lineStyle: {color: color, width: w}, silent: true, z: 4});
const plus = 'path://M0,1.1H3V1.9H0Z M1.1,0H1.9V3H1.1Z';
const cross = (i, data, color) => ({type: 'scatter', xAxisIndex: i, yAxisIndex: i, data: data, symbol: plus, symbolSize: 4.2, itemStyle: {color: color}, silent: true, z: 2});

const series = [
  dot(0, aerDots, '#000', 3.5), line(0, aerLine, '#000', 2.2),
  dot(1, aDots, '#000', 3.5), line(1, aLine, '#000', 2.2),
  cross(2, absTimes.map((t, k) => [t, absRed[k]]), '#ff0000'),
  cross(2, absRedSpread, '#ff0000'),
  cross(2, absTimes.map((t, k) => [t, absBlue[k]]), '#0000ff'),
  dot(3, rRedDots, '#ff0000', 3.5), dot(3, rBlueDots, '#0000ff', 3.5),
  line(3, rRedLine, '#ff0000', 2.6), line(3, rBlueLine, '#0000ff', 2.6),
  dot(4, dDots, '#000', 3.5), line(4, dLine, '#000', 2.2)
];

const SF = 'Liberation Serif';
const rich = {
  i: {fontFamily: SF, fontStyle: 'italic', fontSize: 20, lineHeight: 27, color: '#000'},
  r: {fontFamily: SF, fontSize: 20, lineHeight: 27, color: '#000'},
  s: {fontFamily: SF, fontStyle: 'italic', fontSize: 13, lineHeight: 13, verticalAlign: 'bottom', color: '#000'},
  p: {fontFamily: SF, fontSize: 13, lineHeight: 13, verticalAlign: 'top', color: '#000'}
};
const vlabel = (x, y, text) => ({type: 'text', x: x, y: y, rotation: Math.PI / 2, silent: true,
  style: {text: text, rich: rich, align: 'center', verticalAlign: 'middle'}});
const graphic = [
  vlabel(23, 80, '{i|d}{s|aer}{r|[}{i|cm}{p|\u22123}{r|]}'),
  vlabel(15, 232, '{i|A}{r|[1]}'),
  vlabel(18, 388, '{i|A}{s|bs}{r|[1]}'),
  vlabel(11, 548, '{i|R}{r|[1]}'),
  vlabel(30, 705, '{r|\u0394[%]}'),
  {type: 'text', x: 367, y: 797, silent: true, style: {text: '{i|t}{r|[}{i|year}{r|]}', rich: rich, align: 'center', verticalAlign: 'middle'}},
  {type: 'text', x: 324, y: 602, silent: true, style: {text: '28', fontFamily: SF, fontSize: 18, fill: '#000', align: 'center', verticalAlign: 'middle'}}
];

chart.setOption({animation: false, backgroundColor: '#fff', grid: grid, xAxis: xAxis, yAxis: yAxis, series: series, graphic: graphic});
</script>
</body></html>
